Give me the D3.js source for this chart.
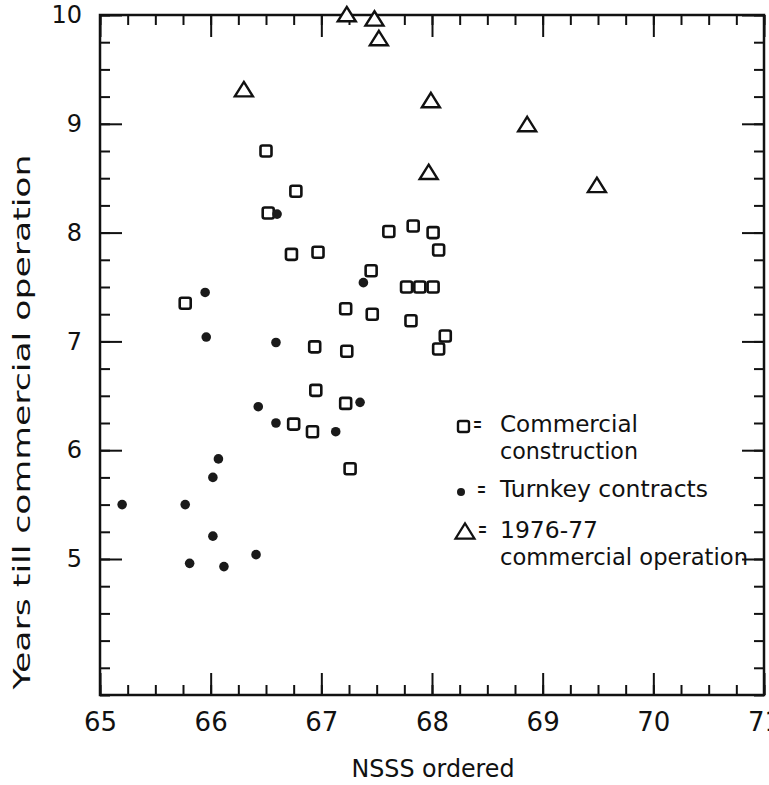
<!DOCTYPE html>
<html>
<head>
<meta charset="utf-8">
<script src="https://cdn.jsdelivr.net/npm/d3@7"></script>
<style>
  body { margin: 0; background: #fff; }
  svg { display: block; }
  svg text { font-family: "DejaVu Sans", sans-serif; }
</style>
</head>
<body>
<main></main>
<script>
// [NSSS ordered, years till commercial operation]
const commercial = [
  [66.5, 8.75], [66.77, 8.38], [66.52, 8.18], [67.61, 8.01], [67.83, 8.06],
  [68.01, 8.0], [68.06, 7.84], [66.73, 7.8], [66.97, 7.82], [67.45, 7.65],
  [65.77, 7.35], [67.22, 7.3], [67.46, 7.25], [67.77, 7.5], [67.89, 7.5],
  [68.01, 7.5], [67.81, 7.19], [68.12, 7.05], [68.06, 6.93], [66.94, 6.95],
  [67.23, 6.91], [66.95, 6.55], [67.22, 6.43], [66.75, 6.24], [66.92, 6.17],
  [67.26, 5.83]
]
const turnkey = [
  [66.6, 8.17], [67.38, 7.54], [65.95, 7.45], [65.96, 7.04], [66.59, 6.99],
  [66.43, 6.4], [67.35, 6.44], [66.59, 6.25], [67.13, 6.17], [66.07, 5.92],
  [66.02, 5.75], [65.2, 5.5], [65.77, 5.5], [66.02, 5.21], [65.81, 4.96],
  [66.12, 4.93], [66.41, 5.04]
]
const op7677 = [
  [67.23, 10.0], [67.48, 9.96], [67.52, 9.78], [66.3, 9.31], [67.99, 9.21],
  [68.86, 8.99], [67.97, 8.55], [69.49, 8.43]
]
const xLabels = [65, 66, 67, 68, 69, 70, 71]
const yLabels = [5, 6, 7, 8, 9, 10]

const w = 769
const h = 785
const m = { left: 100, right: 5, top: 15, bottom: 90 }

const x = d3.scaleLinear().domain([65, 71]).range([m.left, w - m.right])
const y = d3.scaleLinear().domain([3.75, 10]).range([h - m.bottom, m.top])

const svg = d3.select("main").append("svg").attr("width", w).attr("height", h)

const minorX = d3.range(65, 71.001, 0.25)
const minorY = d3.range(3.75, 10.001, 0.25)
const majorLen = 22
const minorLen = 10
const fmt = d3.format("d")

// ticks pointing inward on all four sides
const addAxis = (axis, transform) => {
  const g = svg.append("g").attr("transform", transform).call(axis)
  g.attr("font-family", null)
  g.select(".domain").remove()
  g.selectAll("line").attr("stroke", "#111").attr("stroke-width", 2)
  g.selectAll("text").attr("fill", "#111")
  return g
}

addAxis(d3.axisBottom(x).tickValues(minorX).tickSize(-minorLen).tickFormat(""),
  `translate(0,${y(3.75)})`)
addAxis(d3.axisTop(x).tickValues(minorX).tickSize(-minorLen).tickFormat(""),
  `translate(0,${y(10)})`)
addAxis(d3.axisLeft(y).tickValues(minorY).tickSize(-minorLen).tickFormat(""),
  `translate(${x(65)},0)`)
addAxis(d3.axisRight(y).tickValues(minorY).tickSize(-minorLen).tickFormat(""),
  `translate(${x(71)},0)`)

const xAxis = addAxis(
  d3.axisBottom(x).tickValues(xLabels).tickSize(-majorLen).tickPadding(18).tickFormat(fmt),
  `translate(0,${y(3.75)})`)
xAxis.attr("font-size", 26)
addAxis(d3.axisTop(x).tickValues(xLabels).tickSize(-majorLen).tickFormat(""),
  `translate(0,${y(10)})`)

const yAxis = addAxis(
  d3.axisLeft(y).tickValues(yLabels).tickSize(-majorLen).tickPadding(18).tickFormat(fmt),
  `translate(${x(65)},0)`)
yAxis.attr("font-size", 24)
addAxis(d3.axisRight(y).tickValues(yLabels).tickSize(-majorLen).tickFormat(""),
  `translate(${x(71)},0)`)

// frame
svg.append("rect")
  .attr("x", x(65)).attr("y", y(10))
  .attr("width", x(71) - x(65)).attr("height", y(3.75) - y(10))
  .attr("fill", "none").attr("stroke", "#111").attr("stroke-width", 2.5)

// marks
const sq = 11
const triPath = (cx, cy, s) =>
  `M${cx},${cy - s * 0.45}L${cx + s / 2},${cy + s * 0.35}L${cx - s / 2},${cy + s * 0.35}Z`

svg.append("g").selectAll("rect")
  .data(commercial).enter().append("rect")
  .attr("x", (d) => x(d[0]) - sq / 2)
  .attr("y", (d) => y(d[1]) - sq / 2)
  .attr("width", sq).attr("height", sq).attr("rx", 2)
  .attr("fill", "#fff").attr("stroke", "#111").attr("stroke-width", 2.6)

svg.append("g").selectAll("circle")
  .data(turnkey).enter().append("circle")
  .attr("cx", (d) => x(d[0])).attr("cy", (d) => y(d[1]))
  .attr("r", 4.8).attr("fill", "#1a1a1a")

svg.append("g").selectAll("path")
  .data(op7677).enter().append("path")
  .attr("d", (d) => triPath(x(d[0]), y(d[1]), 18))
  .attr("fill", "#fff").attr("stroke", "#111").attr("stroke-width", 2.4)
  .attr("stroke-linejoin", "miter")

// legend
const legend = svg.append("g").attr("fill", "#111")
legend.append("rect").attr("x", 458).attr("y", 421).attr("width", 11).attr("height", 11)
  .attr("rx", 2).attr("fill", "#fff").attr("stroke", "#111").attr("stroke-width", 2.4)
legend.append("circle").attr("cx", 461).attr("cy", 492).attr("r", 4).attr("fill", "#1a1a1a")
legend.append("path").attr("d", triPath(465, 532, 19))
  .attr("fill", "#fff").attr("stroke", "#111").attr("stroke-width", 2.2)

const legendText = [
  { t: "=", x: 473, y: 432, len: 9 },
  { t: "Commercial", x: 500, y: 432, len: 138 },
  { t: "construction", x: 500, y: 459, len: 138 },
  { t: "=", x: 477, y: 497, len: 9 },
  { t: "Turnkey contracts", x: 500, y: 497, len: 208 },
  { t: "=", x: 478, y: 537, len: 9 },
  { t: "1976-77", x: 500, y: 538, len: 98 },
  { t: "commercial operation", x: 500, y: 565, len: 248 },
]
legend.selectAll("text").data(legendText).enter().append("text")
  .attr("x", (d) => d.x).attr("y", (d) => d.y)
  .attr("font-size", 23)
  .attr("textLength", (d) => d.len).attr("lengthAdjust", "spacingAndGlyphs")
  .text((d) => d.t)

// axis titles
svg.append("text")
  .attr("x", 433).attr("y", 777)
  .attr("text-anchor", "middle").attr("font-size", 25).attr("fill", "#111")
  .attr("textLength", 163).attr("lengthAdjust", "spacingAndGlyphs")
  .text("NSSS ordered")

svg.append("text")
  .attr("transform", "translate(30,422) rotate(-90)")
  .attr("text-anchor", "middle").attr("font-size", 23).attr("fill", "#111")
  .attr("textLength", 535).attr("lengthAdjust", "spacingAndGlyphs")
  .text("Years till commercial operation")
</script>
</body>
</html>
